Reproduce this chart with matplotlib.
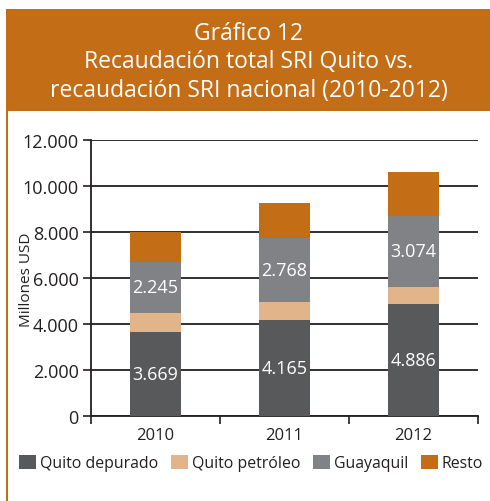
import matplotlib
matplotlib.use("Agg")
import matplotlib.pyplot as plt
from matplotlib.patches import Rectangle
import numpy as np

plt.rcParams['font.family'] = ['Open Sans', 'DejaVu Sans']

years = ["2010", "2011", "2012"]
quito_depurado = [3669, 4165, 4886]
quito_petroleo = [800, 790, 730]
guayaquil = [2245, 2768, 3074]
resto = [1290, 1550, 1925]
series_names = ["Quito depurado", "Quito petróleo", "Guayaquil", "Resto"]
colors = ["#58595b", "#e2b48a", "#808285", "#c46d17"]
label_series = {0: quito_depurado, 2: guayaquil}
yticks = [0, 2000, 4000, 6000, 8000, 10000, 12000]

W, H = 490, 502
fig = plt.figure(figsize=(W / 100, H / 100), dpi=100)

# header box
fig.patches.append(Rectangle((6 / W, 1 - 112 / H), 1 - 6 / W, 102 / H,
                             transform=fig.transFigure, facecolor="#c46d17",
                             edgecolor="none", zorder=0))
# left orange border line
fig.patches.append(Rectangle((6 / W, 0), 2 / W, 1 - 112 / H,
                             transform=fig.transFigure, facecolor="#c46d17",
                             edgecolor="none", zorder=0))
title_lines = ["Gráfico 12", "Recaudación total SRI Quito vs.",
               "recaudación SRI nacional (2010-2012)"]
for i, t in enumerate(title_lines):
    fig.text(0.5 + 4 / W, 1 - (34 + 28.5 * i) / H, t, ha="center", va="center",
             color="white", fontsize=16.5)

ax = fig.add_axes([91 / W, 1 - 417 / H, (478 - 91) / W, 276 / H])
x = np.arange(len(years))
bottom = np.zeros(len(years))
data = [quito_depurado, quito_petroleo, guayaquil, resto]
handles = []
for i, (vals, c, name) in enumerate(zip(data, colors, series_names)):
    b = ax.bar(x, vals, 0.395, bottom=bottom, color=c, label=name, zorder=3)
    handles.append(b)
    if i in label_series:
        for xi, v, bt in zip(x, vals, bottom):
            ax.text(xi, bt + v / 2, f"{v/1000:.3f}", ha="center", va="center",
                    color="white", fontsize=13, zorder=4)
    bottom += np.array(vals)

ax.set_xlim(-0.5, 2.5)
ax.set_ylim(0, 12000)
ax.set_yticks(yticks)
ax.set_yticklabels(["0" if v == 0 else f"{v:,}".replace(",", ".") for v in yticks],
                   fontsize=13, color="#231f20")
ax.yaxis.grid(True, color="#231f20", linewidth=1.3, zorder=1)
ax.set_axisbelow(True)
ax.set_xticks([-0.5, 0.5, 1.5, 2.5])
ax.set_xticklabels([])
ax.set_xticks(x, minor=True)
ax.set_xticklabels(years, minor=True, fontsize=12, color="#231f20")
ax.tick_params(axis="x", which="minor", length=0, pad=8)
ax.tick_params(axis="x", which="major", length=6, width=1.2, color="#231f20")
ax.tick_params(axis="y", length=6, width=1.2, color="#231f20", pad=3)
for s in ["top", "right"]:
    ax.spines[s].set_visible(False)
for s in ["left", "bottom"]:
    ax.spines[s].set_color("#231f20")
    ax.spines[s].set_linewidth(1.3)
ax.set_ylabel("Millones USD", fontsize=11, color="#231f20")
ax.yaxis.set_label_coords(-(91 - 34) / (478 - 91), (417 - 280) / 276)

fig.legend(handles=handles, labels=series_names, loc="center",
           bbox_to_anchor=(251 / W, 1 - 464 / H), ncol=4, frameon=False,
           fontsize=11.4, handlelength=1.07, handleheight=1.07, handletextpad=0.25,
           columnspacing=0.8, labelcolor="#231f20", borderpad=0, borderaxespad=0)

fig.savefig("out.png", dpi=100)
